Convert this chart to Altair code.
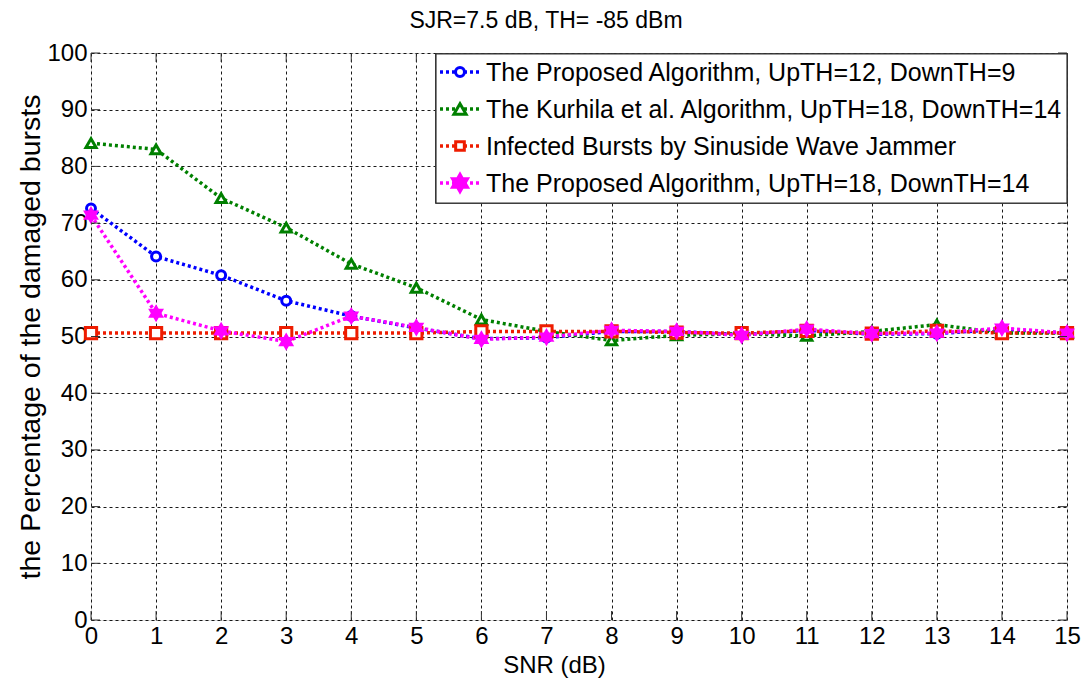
import altair as alt
import pandas as pd

snr = list(range(16))
blue = [72.6, 64.1, 60.8, 56.3, 53.6, 51.5, 49.6, 49.8, 50.9, 50.9, 50.3, 51.1, 50.4, 50.5, 51.3, 50.6]
green = [84.1, 83.0, 74.4, 69.2, 62.8, 58.6, 53.0, 50.9, 49.3, 50.2, 50.5, 50.1, 50.9, 52.1, 50.6, 50.6]
red = [50.6, 50.6, 50.6, 50.6, 50.6, 50.6, 50.9, 50.9, 50.9, 50.7, 50.6, 51.0, 50.5, 51.0, 50.6, 50.6]
magenta = [71.4, 54.1, 51.0, 49.1, 53.6, 51.6, 49.5, 49.9, 51.1, 50.9, 50.2, 51.3, 50.5, 50.6, 51.5, 50.6]

names = [
    "The Proposed Algorithm, UpTH=12, DownTH=9",
    "The Kurhila et al. Algorithm, UpTH=18, DownTH=14",
    "Infected Bursts by Sinuside Wave Jammer",
    "The Proposed  Algorithm, UpTH=18, DownTH=14",
]
title_text = "SJR=7.5 dB, TH= -85 dBm"
colors = ["#0000ff", "#008000", "#ee1c00", "#ff00ff"]
hexagram = "M0,-1L0.29,-0.5L0.87,-0.5L0.58,0L0.87,0.5L0.29,0.5L0,1L-0.29,0.5L-0.87,0.5L-0.58,0L-0.87,-0.5L-0.29,-0.5Z"
shapes = ["circle", "triangle-up", "square", hexagram]
fills = ["white", "white", "white", "#ff00ff"]
sizes = [80, 150, 75, 300]

x_ticks = list(range(16))
y_ticks = list(range(0, 101, 10))

W, H = 976, 567
FONT = "Liberation Sans"

series = [blue, green, red, magenta]
rows = []
for i, (n, vals) in enumerate(zip(names, series)):
    for x, v in zip(snr, vals):
        rows.append({"snr": x, "pct": v, "series": n, "order": i})
df = pd.DataFrame(rows)

xs = alt.Scale(domain=[0, 15], nice=False, zero=False)
ys = alt.Scale(domain=[0, 100], nice=False)

xaxis = alt.Axis(values=x_ticks, format="d", grid=True, gridDash=[3, 3], gridColor="#000000",
                 gridOpacity=0.9, gridWidth=1, tickSize=0, labelPadding=4, domain=False,
                 labelFlush=False, labelFont=FONT, labelFontSize=24, labelColor="#000000",
                 title="SNR (dB)", titleFont=FONT, titleFontSize=24, titleFontWeight="normal",
                 titleColor="#000000", titleX=463, titleY=45, titleBaseline="middle", titleAlign="center")
yaxis = alt.Axis(values=y_ticks, format="d", grid=True, gridDash=[3, 3], gridColor="#000000",
                 gridOpacity=0.9, gridWidth=1, tickSize=0, labelPadding=4, domain=False,
                 labelFlush=False, labelFont=FONT, labelFontSize=24, labelColor="#000000",
                 title="the Percentage of the damaged bursts", titleFont=FONT, titleFontSize=28.5,
                 titleFontWeight="normal", titleColor="#000000", titleX=-61, titleY=H / 2,
                 titleAngle=270, titleBaseline="middle", titleAlign="center")

base = alt.Chart(df)
color_enc = alt.Color("series:N", scale=alt.Scale(domain=names, range=colors), legend=None)

lines = base.mark_line(strokeWidth=3.5, strokeDash=[3, 3], strokeCap="butt").encode(
    x=alt.X("snr:Q", scale=xs, axis=xaxis),
    y=alt.Y("pct:Q", scale=ys, axis=yaxis),
    color=color_enc,
    detail="series:N",
)
points = base.mark_point(filled=False, strokeWidth=3, opacity=1).encode(
    x=alt.X("snr:Q", scale=xs),
    y=alt.Y("pct:Q", scale=ys),
    color=color_enc,
    shape=alt.Shape("series:N", scale=alt.Scale(domain=names, range=shapes), legend=None),
    fill=alt.Fill("series:N", scale=alt.Scale(domain=names, range=fills), legend=None),
    size=alt.Size("series:N", scale=alt.Scale(domain=names, range=sizes), legend=None),
    order="order:Q",
)

# inward ticks (MATLAB style)
xt = pd.DataFrame({"t": x_ticks})
yt = pd.DataFrame({"t": y_ticks})
tk = "#333333"
tick_b = alt.Chart(xt).mark_rule(color=tk, strokeWidth=1).encode(
    x=alt.X("t:Q", scale=xs), y=alt.value(H), y2=alt.value(H - 9))
tick_t = alt.Chart(xt).mark_rule(color=tk, strokeWidth=1).encode(
    x=alt.X("t:Q", scale=xs), y=alt.value(0), y2=alt.value(9))
tick_l = alt.Chart(yt).mark_rule(color=tk, strokeWidth=1).encode(
    y=alt.Y("t:Q", scale=ys), x=alt.value(0), x2=alt.value(9))
tick_r = alt.Chart(yt).mark_rule(color=tk, strokeWidth=1).encode(
    y=alt.Y("t:Q", scale=ys), x=alt.value(W), x2=alt.value(W - 9))

# title as text
title_layer = alt.Chart(pd.DataFrame({"t": [title_text]})).mark_text(
    align="center", baseline="alphabetic", font=FONT, fontSize=23, color="#000000").encode(
    x=alt.value(455), y=alt.value(-25), text="t:N")

# manual legend
LX0, LX1, LY0, LY1 = 345, W, 1, 150
row_y = [19, 56, 93, 130]
leg_df = pd.DataFrame({"name": names})
legend_layers = [
    alt.Chart(leg_df).mark_rect(fill="white", stroke="#333333", strokeWidth=1.2).encode(
        x=alt.value(LX0), x2=alt.value(LX1), y=alt.value(LY0), y2=alt.value(LY1))
]
for i, n in enumerate(names):
    d = pd.DataFrame({"name": [n]})
    legend_layers.append(alt.Chart(d).mark_rule(color=colors[i], strokeWidth=3.5, strokeDash=[3, 3]).encode(
        x=alt.value(LX0 + 4), x2=alt.value(LX0 + 44), y=alt.value(row_y[i])))
    legend_layers.append(alt.Chart(d).mark_point(shape=shapes[i], color=colors[i], fill=fills[i], filled=False,
                                                 strokeWidth=3, size=sizes[i], opacity=1).encode(
        x=alt.value(LX0 + 24), y=alt.value(row_y[i])))
    legend_layers.append(alt.Chart(d).mark_text(align="left", baseline="middle", font=FONT, fontSize=25,
                                                color="#000000").encode(
        x=alt.value(LX0 + 50), y=alt.value(row_y[i] + 1), text="name:N"))

chart = alt.layer(lines, points, tick_b, tick_t, tick_l, tick_r, title_layer, *legend_layers).properties(
    width=W, height=H,
    padding={"left": 91, "top": 53, "right": 18, "bottom": 69},
    autosize="none",
).configure_view(stroke="#444444", strokeWidth=1.5).configure(background="white")

chart.save("out.html", embed_options={"renderer": "svg", "actions": False})
